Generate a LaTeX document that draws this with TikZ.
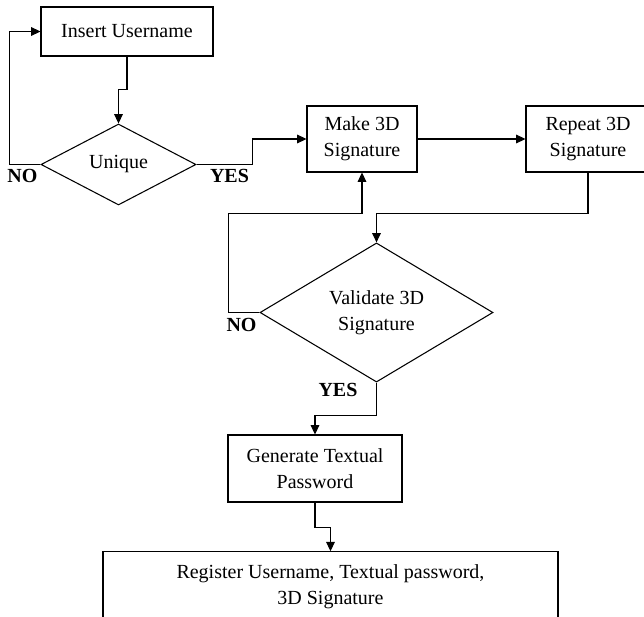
\documentclass[tikz,border=0pt]{standalone}
\usepackage{fontspec}
\setmainfont{Liberation Serif}
\usetikzlibrary{shapes.geometric,arrows.meta}
\begin{document}
\begin{tikzpicture}[x=0.75pt,y=-0.75pt,
  every node/.style={font=\fontsize{15}{19.5}\selectfont},
  box/.style={draw,line width=0.8pt,align=center,inner sep=0pt},
  dec/.style={draw,diamond,line width=0.8pt,align=center,inner sep=0pt},
  lbl/.style={font=\fontsize{15}{19.5}\selectfont\bfseries},
  arr/.style={line width=0.8pt,-{Triangle[length=7pt,width=6.5pt]}}]
\clip (0,0) rectangle (644,617);
\fill[white] (0,0) rectangle (644,617);
\node[box,minimum width=129pt,minimum height=36.75pt] (ins) at (127,31.5) {Insert Username};
\node[dec,minimum width=116.25pt,minimum height=60.75pt] (uni) at (118.5,164.5) {Unique};
\node[box,minimum width=82.5pt,minimum height=49.5pt] (make) at (362,139) {Make 3D\\Signature};
\node[box,minimum width=93pt,minimum height=49.5pt] (rep) at (588,139) {Repeat 3D\\Signature};
\node[dec,minimum width=174.75pt,minimum height=86.25pt] (val) at (376.5,312.5) {Validate 3D\\Signature};
\node[box,minimum width=130.5pt,minimum height=50.25pt] (gen) at (315,468.5) {Generate Textual\\Password};
\node[box,minimum width=341.25pt,minimum height=52.5pt] (reg) at (330.5,586.75) {Register Username, Textual password,\\3D Signature};
\node[lbl] (no1) at (22.5,176) {NO};
\node[lbl] (yes1) at (229.5,176) {YES};
\node[lbl] (no2) at (241.5,324.5) {NO};
\node[lbl] (yes2) at (338,389.5) {YES};
\draw[arr] (ins.south) -- ++(0,33) -| (uni.north);
\draw[arr] (uni.west) -- ++(-31,0) |- (ins.west);
\draw[arr] (uni.east) -- ++(56,0) |- (make.west);
\draw[arr] (make.east) -- (rep.west);
\draw[arr] (rep.south) -- ++(0,41) -| (val.north);
\draw[arr] (val.west) -- ++(-31,0) -- ++(0,-99) -| (make.south);
\draw[arr] (val.south) -- ++(0,33) -| (gen.north);
\draw[arr] (gen.south) -- ++(0,25) -| (reg.north);
\end{tikzpicture}
\end{document}
